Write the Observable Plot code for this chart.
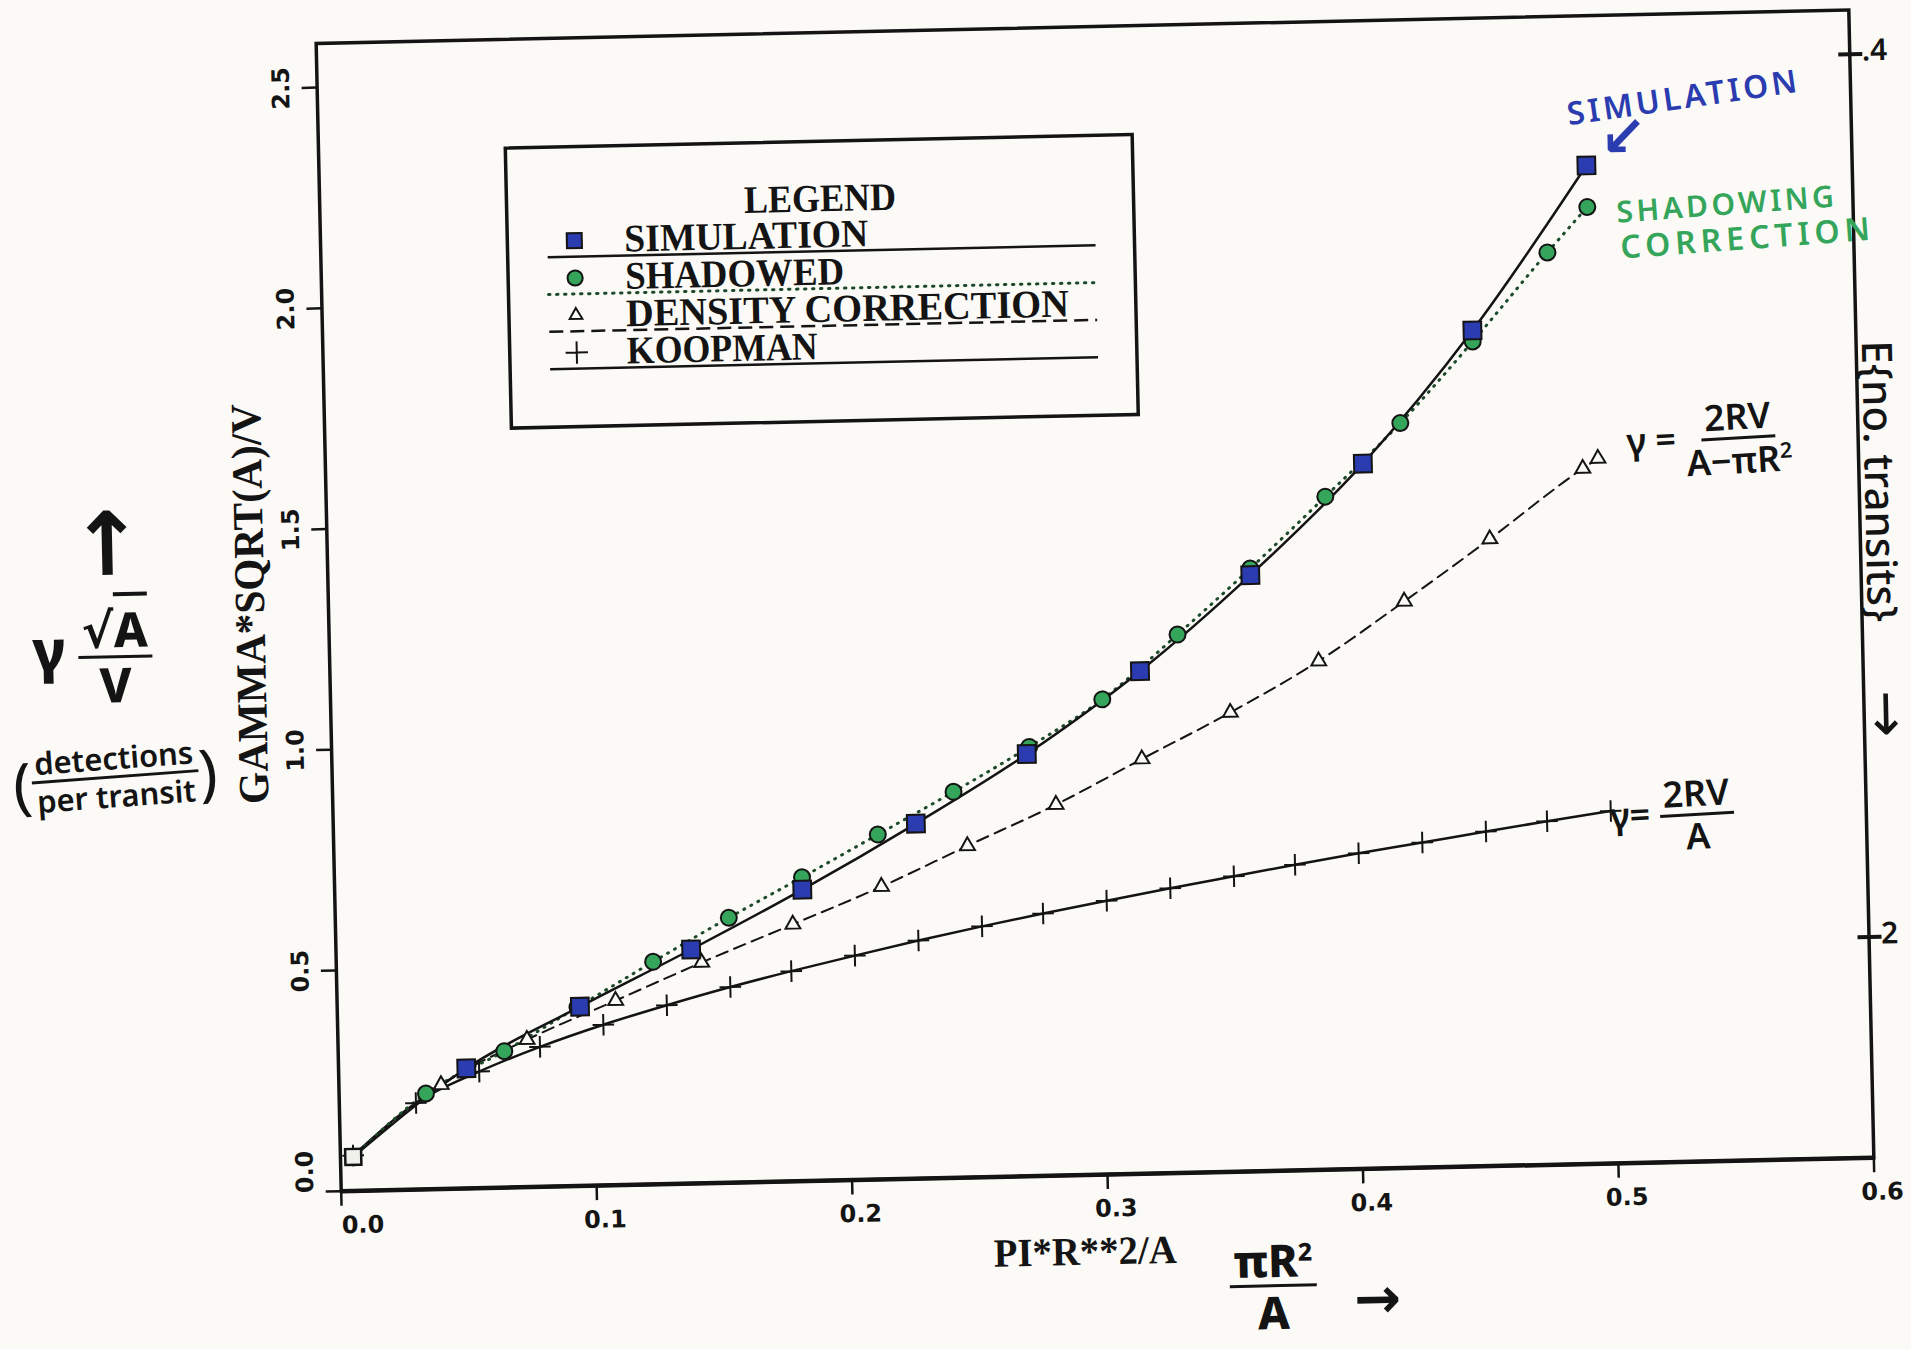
<!DOCTYPE html>
<html>
<head>
<meta charset="utf-8">
<script src="https://cdn.jsdelivr.net/npm/d3@7"></script>
<script src="https://cdn.jsdelivr.net/npm/@observablehq/plot@0.6"></script>
<style>
  html, body { margin: 0; padding: 0; width: 1911px; height: 1349px; overflow: hidden; background: #fbfaf6; }
  #page { position: absolute; left: 0; top: 0; width: 1911px; height: 1349px;
          transform-origin: 340.7px 1190.7px; transform: rotate(-1.25deg); }
  #page > svg { position: absolute; left: 0; top: 0; overflow: visible; }
  .ann { position: absolute; white-space: nowrap; font-family: "Noto Sans", "DejaVu Sans", sans-serif;
         font-weight: 600; line-height: 1; transform: translate(-50%, -50%) rotate(var(--r, 0deg)); }
  .frac { display: inline-flex; flex-direction: column; align-items: center; vertical-align: middle; }
  .frac .num { border-bottom: 3px solid currentColor; padding: 0 4px 2px 4px; line-height: 1; }
  .frac .den { padding-top: 2px; line-height: 1; }
  .paren { font-size: 200%; font-weight: 400; vertical-align: middle; }
</style>
</head>
<body>
<div id="page"></div>
<script>
// ---------------- data ----------------
const simX  = [0.005, 0.050, 0.095, 0.139, 0.183, 0.228, 0.272, 0.317, 0.361, 0.406, 0.450, 0.496];
const simY  = [0.077, 0.272, 0.406, 0.530, 0.660, 0.804, 0.956, 1.138, 1.350, 1.597, 1.893, 2.261];

const shadX = [0.005, 0.034, 0.065, 0.094, 0.124, 0.154, 0.183, 0.213, 0.243, 0.273, 0.302, 0.332, 0.361, 0.391, 0.421, 0.450, 0.480, 0.496];
const shadY = [0.077, 0.217, 0.309, 0.405, 0.504, 0.600, 0.688, 0.781, 0.874, 0.972, 1.076, 1.219, 1.365, 1.524, 1.687, 1.868, 2.066, 2.167];

const densX = [0.005, 0.040, 0.074, 0.109, 0.143, 0.179, 0.214, 0.248, 0.283, 0.317, 0.352, 0.387, 0.421, 0.455, 0.492, 0.498];
const densY = [0.077, 0.236, 0.334, 0.418, 0.500, 0.582, 0.663, 0.751, 0.840, 0.939, 1.040, 1.152, 1.283, 1.420, 1.575, 1.597];

const koopX = [0.005, 0.030, 0.055, 0.079, 0.104, 0.129, 0.154, 0.178, 0.203, 0.228, 0.253, 0.277, 0.302, 0.327, 0.352, 0.376, 0.401, 0.426, 0.451, 0.475, 0.500];
const koopY = [0.080, 0.196, 0.264, 0.317, 0.364, 0.405, 0.443, 0.476, 0.508, 0.539, 0.568, 0.594, 0.620, 0.645, 0.669, 0.692, 0.715, 0.736, 0.758, 0.778, 0.798];

const xTicks = [0, 0.1, 0.2, 0.3, 0.4, 0.5, 0.6];
const yTicks = [0, 0.5, 1.0, 1.5, 2.0, 2.5];
const transitTicks = [0.4, 2];          // hand-drawn right axis: E{no. transits} = 1 / y
const xLabel = "PI*R**2/A";
const yLabel = "GAMMA*SQRT(A)/V";
const legendTitle = "LEGEND";
const legendLabels = ["SIMULATION", "SHADOWED", "DENSITY CORRECTION", "KOOPMAN"];

// ---------------- styling ----------------
const W = 1911, H = 1349;
const frameL = 340.7, frameR = 1873.7, frameT = 42.7, frameB = 1190.7;
const ink = "#141414", blue = "#2b3bb0", green = "#34a55a", paper = "#fbfaf6", dotInk = "#1d4a2a";
const serif = '"Liberation Serif", "Times New Roman", serif';
const sans = '"DejaVu Sans", sans-serif';
const hand = '"Noto Sans", "DejaVu Sans", sans-serif';

const toRows = (xs, ys) => xs.map((x, i) => ({x, y: ys[i]}));
const sim = toRows(simX, simY), shad = toRows(shadX, shadY), dens = toRows(densX, densY), koop = toRows(koopX, koopY);
const fmt1 = d => d.toFixed(1);

const tickLabelStyle = {fontSize: 24, fontWeight: "bold", fontFamily: sans, fill: ink};

const chart = Plot.plot({
  width: W, height: H,
  marginLeft: frameL, marginRight: W - frameR, marginTop: frameT, marginBottom: H - frameB,
  style: {background: "transparent", color: ink, overflow: "visible"},
  x: {domain: [0, 0.6], label: null},
  y: {domain: [0, 2.6], label: null},
  marks: [
    // axes: ticks
    Plot.axisX({ticks: xTicks, tickSize: 15, strokeWidth: 2.5, fill: "none", label: null}),
    Plot.axisY({ticks: yTicks, tickSize: 15, strokeWidth: 2.5, fill: "none", label: null}),
    // axes: tick labels
    Plot.axisX({ticks: xTicks.slice(1), tickSize: 0, tickPadding: 25, tickFormat: fmt1, dx: 8, label: null, ...tickLabelStyle}),
    Plot.axisX({ticks: xTicks.slice(0, 1), tickSize: 0, tickPadding: 25, tickFormat: fmt1, dx: 21, label: null, ...tickLabelStyle}),
    Plot.axisY({ticks: yTicks.slice(1), tickSize: 0, tickPadding: 28, tickRotate: -90, tickFormat: fmt1, label: null, ...tickLabelStyle}),
    Plot.axisY({ticks: yTicks.slice(0, 1), tickSize: 0, tickPadding: 28, tickRotate: -90, tickFormat: fmt1, dy: -20, label: null, ...tickLabelStyle}),
    // hand-drawn right axis (expected number of transits = 1/y)
    Plot.axisY({anchor: "right", ticks: transitTicks.map(t => 1 / t), tickSize: 24, dx: -12, strokeWidth: 4, fill: "none", label: null}),
    Plot.axisY({anchor: "right", ticks: transitTicks.map(t => 1 / t), tickSize: 0, tickPadding: 12, dy: -3,
      tickFormat: d => String(+(1 / d).toFixed(1)).replace(/^0\./, "."), label: null,
      fontSize: 30, fontWeight: 600, fontFamily: hand, fill: ink}),
    // axis titles
    Plot.text([xLabel], {frameAnchor: "bottom", textAnchor: "middle", dx: -24, dy: 77, lineAnchor: "middle",
      fontSize: 40, fontWeight: "bold", fontFamily: serif, fill: ink}),
    Plot.text([yLabel], {frameAnchor: "left", textAnchor: "middle", dx: -78, dy: -15, rotate: -90, lineAnchor: "middle",
      fontSize: 43, fontWeight: "bold", fontFamily: serif, fill: ink}),
    // frame
    Plot.frame({stroke: ink, strokeWidth: 3.5}),
    Plot.ruleY([0], {stroke: ink, strokeWidth: 4.5}),
    // series lines
    Plot.line(koop, {x: "x", y: "y", curve: "monotone-x", stroke: ink, strokeWidth: 2.5}),
    Plot.line(dens, {x: "x", y: "y", curve: "monotone-x", stroke: ink, strokeWidth: 2, strokeDasharray: "12,7"}),
    Plot.line(shad, {x: "x", y: "y", curve: "monotone-x", stroke: dotInk, strokeWidth: 3, strokeDasharray: "1,7", strokeLinecap: "round"}),
    Plot.line(sim, {x: "x", y: "y", curve: "monotone-x", stroke: ink, strokeWidth: 2.5}),
    // series symbols
    Plot.dot(koop, {x: "x", y: "y", symbol: "plus", r: 7, stroke: ink, strokeWidth: 2}),
    Plot.dot(dens, {x: "x", y: "y", symbol: "triangle", r: 5.5, fill: paper, stroke: ink, strokeWidth: 2}),
    Plot.dot(shad.slice(1), {x: "x", y: "y", symbol: "circle", r: 8, fill: green, stroke: ink, strokeWidth: 2}),
    Plot.dot(sim.slice(1), {x: "x", y: "y", symbol: "square", r: 10, fill: blue, stroke: ink, strokeWidth: 2}),
    Plot.dot(sim.slice(0, 1), {x: "x", y: "y", symbol: "square", r: 9, fill: "#f1f1ec", stroke: ink, strokeWidth: 2.5})
  ]
});

// fit the printed (condensed serif) axis titles to their measured lengths
const titleLengths = new Map([[xLabel, 183], [yLabel, 400]]);
chart.querySelectorAll("text").forEach(t => {
  const L = titleLengths.get(t.textContent);
  if (L) { t.setAttribute("textLength", L); t.setAttribute("lengthAdjust", "spacingAndGlyphs"); }
});

const page = document.getElementById("page");
page.appendChild(chart);

// ---------------- legend box ----------------
const legW = 627, legH = 280;
const legendTextLengths = [244, 219, 443, 191], legendTitleLength = 152;
const leg = d3.create("svg").attr("width", legW).attr("height", legH)
  .style("position", "absolute").style("left", "528px").style("top", "152px").style("overflow", "visible");
leg.append("rect").attr("width", legW).attr("height", legH).attr("fill", "none").attr("stroke", ink).attr("stroke-width", 3.5);
leg.append("text").text(legendTitle).attr("x", legW / 2).attr("y", 70).attr("text-anchor", "middle")
  .attr("font-family", serif).attr("font-weight", "bold").attr("font-size", 39).attr("fill", ink)
  .attr("textLength", legendTitleLength).attr("lengthAdjust", "spacingAndGlyphs");
const legendStyles = [
  {sym: d3.symbolSquare, size: 225, fill: blue, stroke: ink, dash: null},
  {sym: d3.symbolCircle, size: 180, fill: green, stroke: ink, dash: "1.5,6.5"},
  {sym: d3.symbolTriangle, size: 70, fill: paper, stroke: ink, dash: "14,7"},
  {sym: d3.symbolPlus, size: 165, fill: "none", stroke: ink, dash: null}
];
legendLabels.forEach((label, i) => {
  const base = 106 + 37.3 * i, st = legendStyles[i];
  leg.append("path").attr("d", d3.symbol(st.sym, st.size)())
    .attr("transform", `translate(67,${base - 12})`)
    .attr("fill", st.fill).attr("stroke", st.stroke).attr("stroke-width", 2);
  leg.append("text").text(label).attr("x", 117).attr("y", base)
    .attr("font-family", serif).attr("font-weight", "bold").attr("font-size", 39).attr("fill", ink)
    .attr("textLength", legendTextLengths[i]).attr("lengthAdjust", "spacingAndGlyphs");
  leg.append("line").attr("x1", 40).attr("x2", 588).attr("y1", base + 4).attr("y2", base + 4)
    .attr("stroke", i === 1 ? dotInk : ink).attr("stroke-width", i === 1 ? 3 : 2.5)
    .attr("stroke-linecap", i === 1 ? "round" : "butt")
    .attr("stroke-dasharray", st.dash);
});
page.appendChild(leg.node());

// ---------------- handwritten annotations ----------------
function ann(html, x, y, style = {}, rot = 0) {
  const d = document.createElement("div");
  d.className = "ann";
  d.innerHTML = html;
  d.style.left = x + "px";
  d.style.top = y + "px";
  d.style.setProperty("--r", rot + "deg");
  Object.assign(d.style, style);
  page.appendChild(d);
}
const frac = (n, d) => `<span class="frac"><span class="num">${n}</span><span class="den">${d}</span></span>`;

ann("SIMULATION", 1707, 126, {color: blue, fontSize: "32px", letterSpacing: "3.5px"}, -7);
ann("↙", 1646, 162, {color: blue, fontSize: "56px"}, 0);
ann("SHADOWING", 1748, 234, {color: green, fontSize: "30px", letterSpacing: "3.5px"}, -3);
ann("CORRECTION", 1768, 268, {color: green, fontSize: "32px", letterSpacing: "5px"}, -3);

ann(`γ = ${frac("2RV", "A−πR<sup style='font-size:60%'>2</sup>")}`, 1725, 470, {color: ink, fontSize: "36px"}, -2);
ann(`γ= ${frac("2RV", "A")}`, 1680, 845, {color: ink, fontSize: "36px"}, -2);

ann("↑", 121, 536, {color: ink, fontSize: "88px", fontWeight: 700});
ann(`<span style="font-size:120%">γ</span> ${frac("√<span style='text-decoration:overline'>A</span>", "V")}`, 104, 652, {color: ink, fontSize: "48px", fontWeight: 800});
ann(`<span class="paren">(</span>${frac("detections", "per transit")}<span class="paren">)</span>`, 124, 772, {color: ink, fontSize: "31px"}, -3);

ann(frac("πR<sup style='font-size:55%'>2</sup>", "A"), 1271, 1306, {color: ink, fontSize: "45px", fontWeight: 800});
ann("→", 1375, 1318, {color: ink, fontSize: "56px", fontWeight: 800});

ann("E{no. transits}", 1896, 515, {color: ink, fontSize: "42px", fontWeight: 500}, 90);
ann("↓", 1896, 746, {color: ink, fontSize: "56px", fontWeight: 500});
</script>
</body>
</html>
